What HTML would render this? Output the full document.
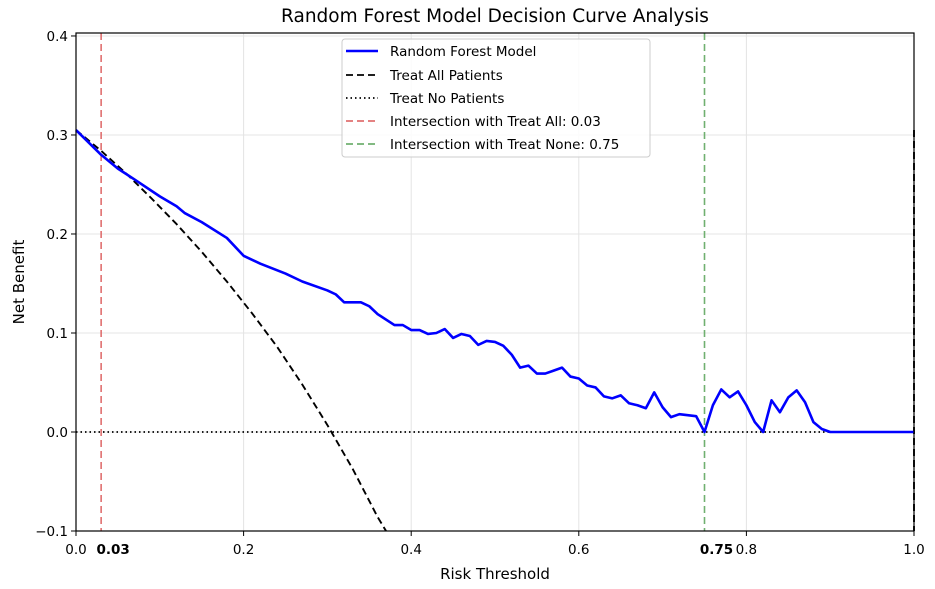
<!DOCTYPE html>
<html><head><meta charset="utf-8"><style>
body{margin:0;background:#fff;}
svg{display:block;font-family:"DejaVu Sans","Liberation Sans",sans-serif;}
</style></head><body>
<svg id="chart" width="935" height="589" viewBox="0 0 935 589">
<text x="495" y="22" font-size="18.5" text-anchor="middle">Random Forest Model Decision Curve Analysis</text>
<text x="495" y="579" font-size="15" text-anchor="middle">Risk Threshold</text>
<text transform="translate(24,282) rotate(-90)" font-size="15" text-anchor="middle">Net Benefit</text>
<g id="grid"></g>
<g id="marks"></g>
<rect x="76" y="33" width="838" height="498" fill="none" stroke="#000" stroke-width="1.2"/>
<g id="ticks"></g>
<g>
<rect x="342" y="39" width="308" height="118" rx="3" fill="#fff" fill-opacity="0.85" stroke="#ccc"/>
<line x1="346" y1="51" x2="378" y2="51" stroke="#0000ff" stroke-width="2.5"/>
<text x="390" y="56" font-size="13.5">Random Forest Model</text>
<line x1="346" y1="75" x2="378" y2="75" stroke="#000" stroke-width="1.8" stroke-dasharray="7,4"/>
<text x="390" y="80" font-size="13.5">Treat All Patients</text>
<line x1="346" y1="98" x2="378" y2="98" stroke="#000" stroke-width="1.8" stroke-dasharray="1.5,3"/>
<text x="390" y="103" font-size="13.5">Treat No Patients</text>
<line x1="346" y1="121" x2="378" y2="121" stroke="#e07070" stroke-width="1.8" stroke-dasharray="7,4"/>
<text x="390" y="126" font-size="13.5">Intersection with Treat All: 0.03</text>
<line x1="346" y1="144" x2="378" y2="144" stroke="#70b070" stroke-width="1.8" stroke-dasharray="7,4"/>
<text x="390" y="149" font-size="13.5">Intersection with Treat None: 0.75</text>
</g>
</svg>
<script>
const thresholds = [0,0.03,0.05,0.07,0.10,0.12,0.13,0.15,0.18,0.20,0.22,0.25,0.27,0.30,0.31,0.32,0.34,0.35,0.36,0.38,0.39,0.40,0.41,0.42,0.43,0.44,0.45,0.46,0.47,0.48,0.49,0.50,0.51,0.52,0.53,0.54,0.55,0.56,0.57,0.58,0.59,0.60,0.61,0.62,0.63,0.64,0.65,0.66,0.67,0.68,0.69,0.70,0.71,0.72,0.73,0.74,0.75,0.76,0.77,0.78,0.79,0.80,0.81,0.82,0.83,0.84,0.85,0.86,0.87,0.88,0.89,0.90,0.95,1.0];
const modelNB = [0.305,0.28,0.266,0.255,0.238,0.228,0.221,0.212,0.196,0.178,0.17,0.16,0.152,0.143,0.139,0.131,0.131,0.127,0.119,0.108,0.108,0.103,0.103,0.099,0.1,0.104,0.095,0.099,0.097,0.088,0.092,0.091,0.087,0.078,0.065,0.067,0.059,0.059,0.062,0.065,0.056,0.054,0.047,0.045,0.036,0.034,0.037,0.029,0.027,0.024,0.04,0.025,0.015,0.018,0.017,0.016,0.0,0.027,0.043,0.035,0.041,0.027,0.01,0.0,0.032,0.02,0.035,0.042,0.03,0.01,0.003,0.0,0.0,0.0];
const allThresholds = [0,0.03,0.06,0.09,0.12,0.15,0.18,0.21,0.24,0.27,0.30,0.33,0.36,0.37];
const treatAllNB = [0.305,0.284,0.261,0.236,0.210,0.182,0.152,0.120,0.086,0.048,0.007,-0.037,-0.086,-0.104];
const xTicks = [0,0.2,0.4,0.6,0.8,1.0];
const xTickLabels = ["0.0","0.2","0.4","0.6","0.8","1.0"];
const yTicks = [-0.1,0,0.1,0.2,0.3,0.4];
const yTickLabels = ["\u22120.1","0.0","0.1","0.2","0.3","0.4"];
const cutAll = 0.03, cutNone = 0.75;

const X0=76,X1=914,Y0=531,Y1=33,YMIN=-0.1,YMAX=0.403;
const sx=v=>X0+(v-0)/(1-0)*(X1-X0);
const sy=v=>Y0-(v-YMIN)/(YMAX-YMIN)*(Y0-Y1);
const NS="http://www.w3.org/2000/svg";
function mk(tag,attrs,parent,text){const e=document.createElementNS(NS,tag);for(const k in attrs)e.setAttribute(k,attrs[k]);if(text!==undefined)e.textContent=text;document.getElementById(parent).appendChild(e);return e;}

xTicks.forEach((t,i)=>{
  const g=mk('line',{x1:sx(t),x2:sx(t),y1:Y1,y2:Y0,stroke:'#e4e4e4','stroke-width':1},'grid');
  
  
  const tk=mk('line',{x1:sx(t),x2:sx(t),y1:Y0,y2:Y0+5,stroke:'#000'},'ticks');
  
  
  const lb=mk('text',{x:sx(t),y:Y0+23,'font-size':13.5,'text-anchor':'middle'},'ticks',xTickLabels[i]);
  
  
});
yTicks.forEach((t,i)=>{
  const g=mk('line',{x1:X0,x2:X1,y1:sy(t),y2:sy(t),stroke:'#e4e4e4','stroke-width':1},'grid');
  
  
  const tk=mk('line',{x1:X0-5,x2:X0,y1:sy(t),y2:sy(t),stroke:'#000'},'ticks');
  
  
  const lb=mk('text',{x:X0-8,y:sy(t)+5,'font-size':13.5,'text-anchor':'end'},'ticks',yTickLabels[i]);
  
  
});
[[cutAll,'0.03'],[cutNone,'0.75']].forEach(([v,s])=>{
  const lb=mk('text',{x:sx(v)+12,y:Y0+23,'font-size':13.5,'font-weight':'bold','text-anchor':'middle'},'ticks',s);
  
  
});

const none=mk('line',{x1:X0,x2:X1,y1:sy(0),y2:sy(0),stroke:'#000','stroke-width':1.8,'stroke-dasharray':'1.5,3'},'marks');


const red=mk('line',{x1:sx(cutAll),x2:sx(cutAll),y1:Y1,y2:Y0,stroke:'#e07070','stroke-width':1.6,'stroke-dasharray':'7,4'},'marks');


const green=mk('line',{x1:sx(cutNone),x2:sx(cutNone),y1:Y1,y2:Y0,stroke:'#70b070','stroke-width':1.6,'stroke-dasharray':'7,4'},'marks');



const allPts=allThresholds.map((t,i)=>sx(t)+','+Math.min(sy(treatAllNB[i]),Y0)).join(' ');
const all=mk('polyline',{points:allPts,fill:'none',stroke:'#000','stroke-width':1.9,'stroke-dasharray':'7,4'},'marks');


const edge=mk('line',{x1:sx(1),x2:sx(1),y1:sy(0.305),y2:Y0,stroke:'#000','stroke-width':1.9,'stroke-dasharray':'7,4'},'marks');



const mPts=thresholds.map((t,i)=>sx(t)+','+sy(modelNB[i])).join(' ');
const m=mk('polyline',{points:mPts,fill:'none',stroke:'#0000ff','stroke-width':2.6,'stroke-linejoin':'round'},'marks');


</script>
</body></html>
